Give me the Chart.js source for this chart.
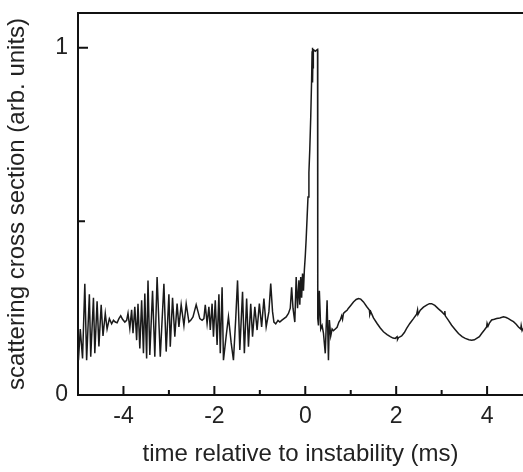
<!DOCTYPE html>
<html>
<head>
<meta charset="utf-8">
<script src="https://cdn.jsdelivr.net/npm/chart.js@4.4.1/dist/chart.umd.min.js"></script>
<style>
  html, body { margin: 0; padding: 0; background: #fff; }
  canvas { display: block; }
</style>
</head>
<body>
<canvas id="scatter-chart" width="523" height="472"></canvas>
<script>
// time relative to instability (ms)
const times = [
  -4.99, -4.95, -4.90, -4.85, -4.81, -4.75, -4.72, -4.66, -4.63, -4.58, -4.54, -4.49, -4.45, -4.40, -4.36, -4.31, -4.26,
  -4.22, -4.18, -4.14, -4.10, -4.06, -4.02, -3.97, -3.93,
  -3.90, -3.86, -3.82, -3.79, -3.75, -3.71, -3.68, -3.64, -3.60, -3.56, -3.53, -3.49, -3.46, -3.42, -3.36,
  -3.31, -3.26, -3.19, -3.11, -3.06, -3.00, -2.97, -2.92, -2.87, -2.82, -2.78, -2.73, -2.67, -2.62, -2.56,
  -2.52, -2.47, -2.43, -2.40, -2.36, -2.32, -2.27, -2.23,
  -2.20, -2.16, -2.12, -2.09, -2.05, -2.02, -1.98, -1.94, -1.90,
  -1.87, -1.83, -1.80, -1.74, -1.69, -1.63, -1.58, -1.53, -1.49,
  -1.44, -1.38, -1.34, -1.29, -1.25, -1.20, -1.16, -1.11, -1.06, -1.01, -0.96, -0.91,
  -0.86, -0.80, -0.76, -0.72, -0.69, -0.65, -0.60, -0.56, -0.52, -0.47, -0.42, -0.37,
  -0.33, -0.30, -0.27, -0.23, -0.20, -0.17, -0.14, -0.12, -0.10, -0.08, -0.06, -0.04, -0.02,
  0.00, 0.02, 0.04, 0.06, 0.08, 0.10, 0.12, 0.14, 0.15,
  0.155, 0.16, 0.165, 0.17, 0.175, 0.18, 0.22, 0.27, 0.275,
  0.29, 0.31, 0.34, 0.37, 0.40, 0.44, 0.48, 0.51, 0.53, 0.56, 0.59, 0.62, 0.66,
  0.70, 0.74, 0.77, 0.80, 0.82, 0.84, 0.88, 0.92, 0.95, 1.00, 1.06, 1.12, 1.17,
  1.22, 1.28, 1.35, 1.41, 1.42, 1.44, 1.50, 1.58, 1.65, 1.72, 1.80, 1.87,
  1.93, 1.98, 2.02, 2.03, 2.05, 2.12, 2.18, 2.23, 2.30, 2.38, 2.45, 2.47,
  2.48, 2.53, 2.60, 2.67, 2.73, 2.78, 2.85, 2.93, 3.00, 3.06, 3.07, 3.08,
  3.15, 3.22, 3.30, 3.37, 3.45, 3.52, 3.60, 3.66, 3.72, 3.77, 3.83, 3.88,
  3.94, 3.99, 4.00, 4.02, 4.05, 4.10, 4.16, 4.21, 4.28, 4.36, 4.42, 4.47,
  4.53, 4.58, 4.64, 4.69, 4.74, 4.75, 4.77, 4.79
];

// scattering cross section (arb. units), same order as times
const crossSection = [
  0.10, 0.19, 0.105, 0.32, 0.10, 0.29, 0.11, 0.28, 0.12, 0.27, 0.14, 0.26, 0.17, 0.235, 0.19, 0.22, 0.205,
  0.215, 0.21, 0.208, 0.22, 0.228, 0.218, 0.21, 0.215,
  0.235, 0.192, 0.245, 0.178, 0.254, 0.158, 0.263, 0.134, 0.273, 0.12, 0.292, 0.105, 0.33, 0.115, 0.30,
  0.11, 0.34, 0.11, 0.32, 0.125, 0.29, 0.139, 0.28, 0.168, 0.263, 0.196, 0.26, 0.20, 0.263, 0.21,
  0.215, 0.225, 0.245, 0.26, 0.24, 0.22, 0.215, 0.22,
  0.26, 0.206, 0.254, 0.187, 0.263, 0.168, 0.273, 0.144, 0.29,
  0.12, 0.31, 0.10, 0.17, 0.225, 0.15, 0.10, 0.22, 0.33,
  0.13, 0.297, 0.12, 0.278, 0.139, 0.263, 0.168, 0.254, 0.187, 0.263, 0.196, 0.278,
  0.196, 0.24, 0.321, 0.24, 0.21, 0.205, 0.215, 0.21, 0.215, 0.22, 0.225, 0.235,
  0.25, 0.31, 0.25, 0.21, 0.34, 0.25, 0.33, 0.26, 0.34, 0.28, 0.35, 0.30, 0.36,
  0.40, 0.45, 0.51, 0.57, 0.64, 0.71, 0.80, 0.91, 0.99,
  0.92, 1.00, 0.90, 0.99, 0.94, 0.995, 0.99, 0.995, 0.22,
  0.20, 0.30, 0.19, 0.20, 0.178, 0.12, 0.273, 0.10, 0.216, 0.17, 0.19, 0.185, 0.19,
  0.195, 0.21, 0.216, 0.228, 0.218, 0.235, 0.24, 0.244, 0.25, 0.258, 0.268, 0.275, 0.278,
  0.276, 0.268, 0.255, 0.245, 0.232, 0.24, 0.222, 0.206, 0.193, 0.182, 0.174, 0.168,
  0.164, 0.163, 0.168, 0.160, 0.165, 0.17, 0.18, 0.192, 0.206, 0.22, 0.233, 0.245,
  0.232, 0.244, 0.253, 0.259, 0.263, 0.263, 0.258, 0.248, 0.24, 0.232, 0.242, 0.228,
  0.215, 0.201, 0.188, 0.177, 0.168, 0.163, 0.159, 0.158, 0.159, 0.163, 0.168, 0.177,
  0.187, 0.196, 0.206, 0.198, 0.207, 0.216, 0.218, 0.22, 0.222, 0.225, 0.223, 0.22,
  0.215, 0.211, 0.204, 0.196, 0.19, 0.20, 0.186, 0.192
];

// axis ticks
const xMajorTicks = [-4, -2, 0, 2, 4];
const xMinorTicks = [-3, -1, 1, 3];
const yMajorTicks = [0, 1];
const yMinorTicks = [0.5];

const axisColor = "#111";
const lineColor = "#1a1a1a";
const fontFamily = "'Liberation Sans', Arial, Helvetica, sans-serif";

const points = times.map((t, i) => ({ x: t, y: crossSection[i] }));

// ticks point into the plot and the frame is closed on top
const frameTicks = {
  id: "frameTicks",
  afterDraw(chart) {
    const { ctx, chartArea, scales } = chart;
    ctx.save();
    ctx.strokeStyle = axisColor;
    ctx.lineWidth = 2;
    ctx.beginPath();
    ctx.moveTo(chartArea.left - 1, chartArea.top);
    ctx.lineTo(chartArea.right, chartArea.top);
    // x ticks
    xMajorTicks.forEach(v => {
      const px = scales.x.getPixelForValue(v);
      ctx.moveTo(px, chartArea.bottom);
      ctx.lineTo(px, chartArea.bottom - 9);
    });
    xMinorTicks.forEach(v => {
      const px = scales.x.getPixelForValue(v);
      ctx.moveTo(px, chartArea.bottom);
      ctx.lineTo(px, chartArea.bottom - 5);
    });
    // y ticks (skip 0, it sits on the x axis)
    yMajorTicks.filter(v => v !== 0).forEach(v => {
      const py = scales.y.getPixelForValue(v);
      ctx.moveTo(chartArea.left, py);
      ctx.lineTo(chartArea.left + 10, py);
    });
    yMinorTicks.forEach(v => {
      const py = scales.y.getPixelForValue(v);
      ctx.moveTo(chartArea.left, py);
      ctx.lineTo(chartArea.left + 7, py);
    });
    ctx.stroke();
    ctx.restore();
  }
};

const ctx = document.getElementById("scatter-chart").getContext("2d");
new Chart(ctx, {
  type: "line",
  data: {
    datasets: [{
      data: points,
      borderColor: lineColor,
      borderWidth: 1.5,
      pointRadius: 0,
      tension: 0,
      fill: false
    }]
  },
  options: {
    responsive: false,
    animation: false,
    parsing: false,
    layout: { padding: { top: 13, right: 0, left: 0, bottom: 0 } },
    plugins: {
      legend: { display: false },
      tooltip: { enabled: false }
    },
    scales: {
      x: {
        type: "linear",
        min: -5,
        max: 4.79,
        afterFit: scale => {
          scale.height = 77;
          scale.paddingLeft = 0;
          scale.paddingRight = 0;
        },
        afterBuildTicks: scale => { scale.ticks = xMajorTicks.map(v => ({ value: v })); },
        grid: { display: false, drawTicks: false },
        border: { display: true, color: axisColor, width: 2 },
        ticks: {
          padding: 8,
          color: "#222",
          font: { family: fontFamily, size: 23 },
          callback: v => String(v)
        },
        title: {
          display: true,
          text: "time relative to instability (ms)",
          color: "#222",
          padding: { top: 0, bottom: 3 },
          font: { family: fontFamily, size: 24 }
        }
      },
      y: {
        min: 0,
        max: 1.1,
        afterFit: scale => {
          scale.width = 78;
          scale.paddingTop = 0;
          scale.paddingBottom = 0;
        },
        afterBuildTicks: scale => { scale.ticks = yMajorTicks.map(v => ({ value: v })); },
        grid: { display: false, drawTicks: false },
        border: { display: true, color: axisColor, width: 2 },
        ticks: {
          padding: 10,
          color: "#222",
          font: { family: fontFamily, size: 23 },
          callback: v => String(v)
        },
        title: {
          display: true,
          text: "scattering cross section (arb. units)",
          color: "#222",
          padding: { top: 3, bottom: 0 },
          font: { family: fontFamily, size: 24 }
        }
      }
    }
  },
  plugins: [frameTicks]
});
</script>
</body>
</html>
